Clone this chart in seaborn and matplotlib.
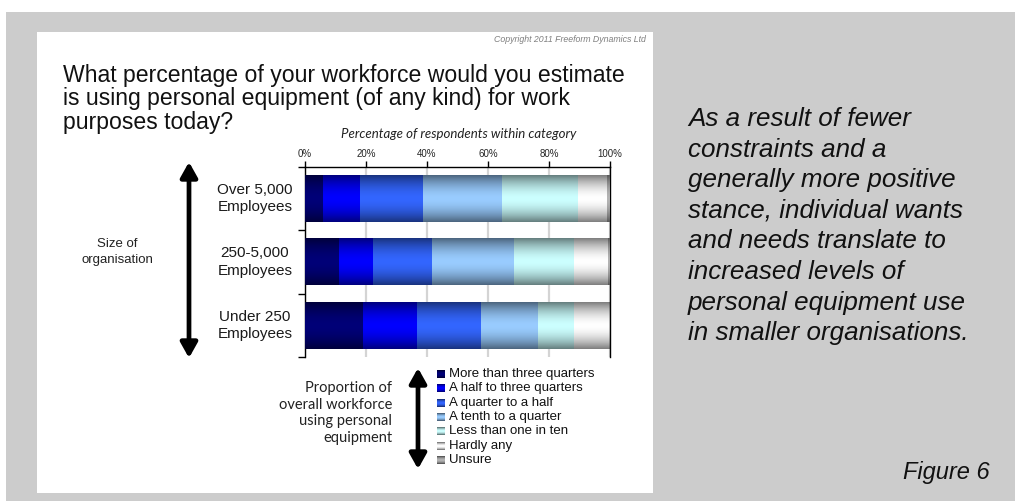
import numpy as np
import pandas as pd
import matplotlib
matplotlib.use("Agg")
import matplotlib.pyplot as plt
import matplotlib.colors as mcolors
from matplotlib.patches import Rectangle, FancyArrowPatch
from matplotlib.transforms import blended_transform_factory
import seaborn as sns

# ---------------------------------------------------------------- data
categories = ["Over 5,000\nEmployees", "250-5,000\nEmployees", "Under 250\nEmployees"]
responses = ["More than three quarters", "A half to three quarters", "A quarter to a half",
             "A tenth to a quarter", "Less than one in ten", "Hardly any", "Unsure"]
more_than_three_quarters = [5.9, 11.1, 18.7]
half_to_three_quarters = [12.1, 10.9, 18.0]
quarter_to_half = [20.4, 19.6, 21.0]
tenth_to_quarter = [25.9, 26.6, 18.4]
less_than_one_in_ten = [24.9, 19.7, 11.8]
hardly_any = [9.8, 11.4, 11.6]
unsure = [1.0, 0.7, 0.5]
x_ticks = [0, 20, 40, 60, 80, 100]
x_tick_labels = ["0%", "20%", "40%", "60%", "80%", "100%"]

series = [more_than_three_quarters, half_to_three_quarters, quarter_to_half,
          tenth_to_quarter, less_than_one_in_ten, hardly_any, unsure]
colors = ["#000078", "#0000ff", "#3366ff", "#99ccff", "#ccffff", "#ffffff", "#b4b4b4"]

df = pd.DataFrame({"category": categories})
for name, vals in zip(responses, series):
    df[name] = vals
cum = df[responses].cumsum(axis=1)

# ---------------------------------------------------------------- figure
W, H = 1015, 501
sns.set_theme(style="white")
plt.rcParams["font.family"] = ["Liberation Sans", "DejaVu Sans"]
fig = plt.figure(figsize=(W / 100, H / 100), dpi=100)
fig.patch.set_facecolor("white")


def fx(x):
    return x / W


def fy(y):
    return 1 - y / H


def ftext(x, y, s, **kw):
    return fig.text(fx(x), fy(y), s, **kw)


# grey backdrop and white chart card
fig.add_artist(Rectangle((fx(6), fy(501)), fx(1015) - fx(6), fy(12) - fy(501),
                         transform=fig.transFigure, facecolor="#cccccc", edgecolor="none", zorder=0))
fig.add_artist(Rectangle((fx(37), fy(493)), fx(653) - fx(37), fy(32) - fy(493),
                         transform=fig.transFigure, facecolor="white", edgecolor="none", zorder=0))


def shade_profile(n):
    t = np.linspace(0, 1, n)
    return 1 - 0.5 * np.abs(2 * t - 1) ** 1.8


def gradient(color, n=64):
    rgb = np.array(mcolors.to_rgb(color))
    return shade_profile(n)[:, None, None] * rgb[None, None, :]


ax = fig.add_axes([fx(305), fy(357), fx(610) - fx(305), fy(167) - fy(357)])
ax.set_facecolor("none")

# stacked bars: draw cumulative totals from the longest back to the shortest
nseg = len(responses)
for k in reversed(range(nseg)):
    before = set(ax.patches)
    z = 3 + 2 * (nseg - k)
    sns.barplot(x=cum[responses[k]], y=df["category"], orient="h", color=colors[k],
                width=0.74, errorbar=None, ax=ax, zorder=z, linewidth=0)
    for p in ax.patches:
        if p in before:
            continue
        x0, w = p.get_x(), p.get_width()
        y0, h = p.get_y(), p.get_height()
        ax.imshow(gradient(colors[k]), extent=[x0, x0 + w, y0 + h, y0],
                  aspect="auto", interpolation="bilinear", zorder=z + 1)

ax.set_xlim(0, 100)
ax.set_ylim(2.5, -0.5)
ax.set_aspect("auto")
ax.set_xlabel("")
ax.set_ylabel("")

ax.xaxis.tick_top()
ax.set_xticks(x_ticks)
ax.set_xticklabels(x_tick_labels, fontsize=7)
ax.set_yticks([-0.5, 0.5, 1.5, 2.5])
ax.set_yticklabels([])
ax.tick_params(axis="x", which="major", direction="out", length=4, width=1, color="black", pad=2)
ax.tick_params(axis="y", which="major", direction="out", length=5, width=1, color="black", left=True)
ax.grid(axis="x", color="#d4d4d4", linewidth=1.6)
ax.grid(axis="y", visible=False)
ax.set_axisbelow(True)
for side in ["top", "left", "right"]:
    ax.spines[side].set_visible(True)
    ax.spines[side].set_color("black")
    ax.spines[side].set_linewidth(1)
ax.spines["bottom"].set_visible(False)

# category labels to the left of the bars
tr = blended_transform_factory(ax.transAxes, ax.transData)
for i, cat in enumerate(df["category"]):
    ax.text(-0.164, i, cat, transform=tr, ha="center", va="center", fontsize=11,
            linespacing=1.3, color="#1a1a1a")

# ---------------------------------------------------------------- texts
ftext(646, 40, "Copyright 2011 Freeform Dynamics Ltd", ha="right", va="center",
      fontsize=6.3, style="italic", color="#7f7f7f")
title_lines = ["What percentage of your workforce would you estimate",
               "is using personal equipment (of any kind) for work",
               "purposes today?"]
for i, line in enumerate(title_lines):
    ftext(63, 75.5 + 23.5 * i, line, ha="left", va="center", fontsize=16.6, color="#111111")

ftext(459, 134, "Percentage of respondents within category", ha="center", va="center",
      fontsize=9.5, style="italic", family=["Lato", "DejaVu Sans"], color="#222222")

ftext(117, 252, "Size of\norganisation", ha="center", va="center", fontsize=9.5,
      linespacing=1.35, color="#222222")

prop_lines = ["Proportion of", "overall workforce", "using personal", "equipment"]
for i, line in enumerate(prop_lines):
    ftext(392, 388 + 16.7 * i, line, ha="right", va="center", fontsize=10.5,
          family=["Lato", "DejaVu Sans"], color="#222222")

# double-headed arrows
for (x, y1, y2) in [(189, 162, 358), (418, 368, 469)]:
    fig.add_artist(FancyArrowPatch((fx(x), fy(y1)), (fx(x), fy(y2)), transform=fig.transFigure,
                                   arrowstyle="<|-|>,head_length=0.75,head_width=0.42",
                                   mutation_scale=12, linewidth=3.4, color="black",
                                   shrinkA=0, shrinkB=0, zorder=5))

# legend: small shaded swatches with labels
prof = shade_profile(8)
for i, (name, col) in enumerate(zip(responses, colors)):
    yc = 374 + 14.3 * i
    rgb = np.array(mcolors.to_rgb(col))
    for j in range(8):
        fig.add_artist(Rectangle((fx(437), fy(yc - 4 + j + 1)), fx(8), 1 / H,
                                 transform=fig.transFigure, facecolor=np.clip(rgb * prof[j], 0, 1),
                                 edgecolor="none", zorder=5))
    ftext(449, yc, name, ha="left", va="center", fontsize=9.5, color="#111111")

# commentary on the grey side panel
notes = ["As a result of fewer", "constraints and a", "generally more positive",
         "stance, individual wants", "and needs translate to", "increased levels of",
         "personal equipment use", "in smaller organisations."]
for i, line in enumerate(notes):
    ftext(688, 119 + 30.6 * i, line, ha="left", va="center", fontsize=18.7,
          style="italic", color="#111111")
ftext(990, 472, "Figure 6", ha="right", va="center", fontsize=17, style="italic", color="#111111")

fig.savefig("out.png", dpi=100, facecolor=fig.get_facecolor())
